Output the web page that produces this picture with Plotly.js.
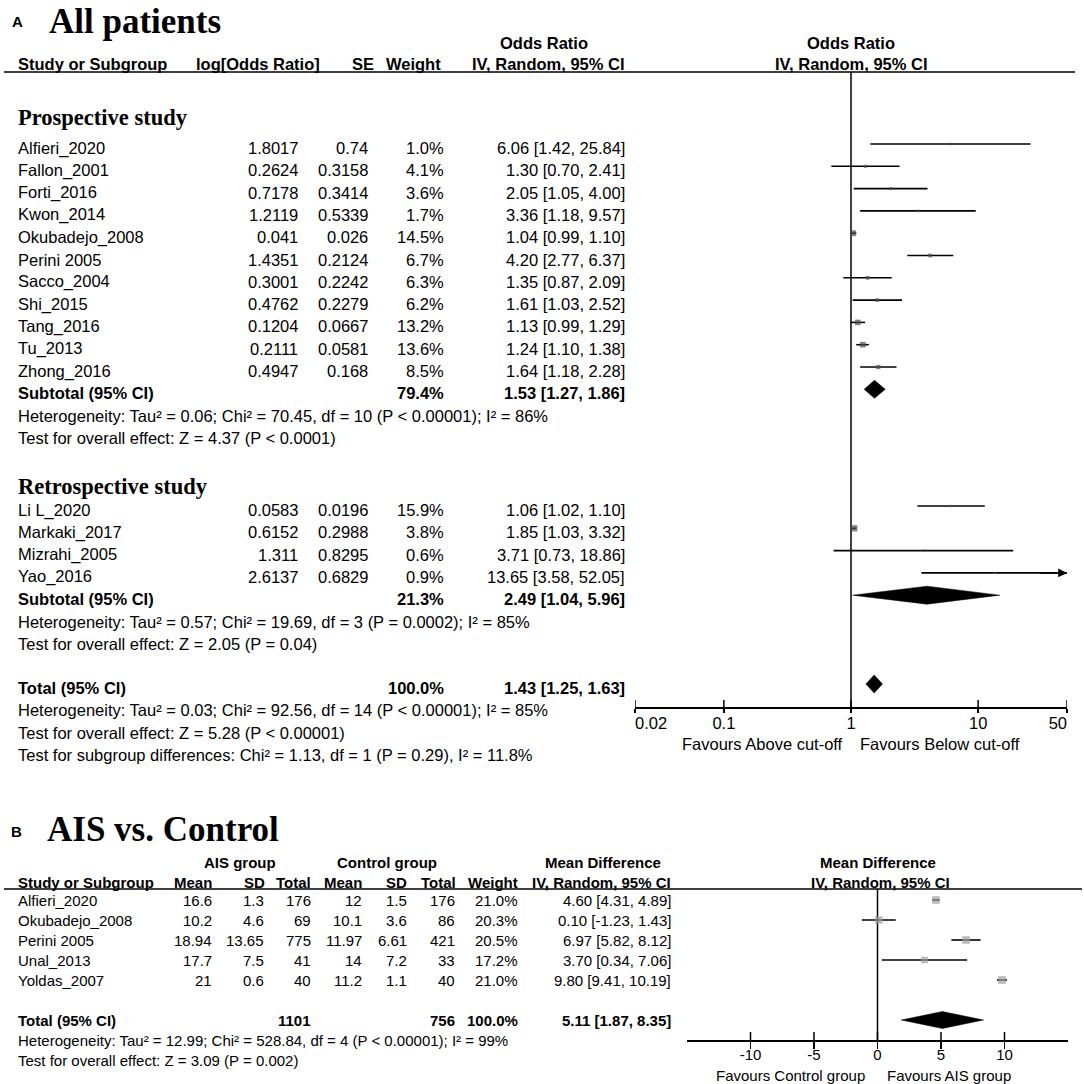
<!DOCTYPE html>
<html><head><meta charset="utf-8">
<script src="https://cdn.plot.ly/plotly-3.0.1.min.js"></script>
<style>html,body{margin:0;padding:0;background:#fff}</style>
</head><body><div id="chart" style="width:1084px;height:1084px"></div>
<script>
// ================= DATA : Panel A (All patients) =================
const prosNames  = ['Alfieri_2020','Fallon_2001','Forti_2016','Kwon_2014','Okubadejo_2008','Perini 2005','Sacco_2004','Shi_2015','Tang_2016','Tu_2013','Zhong_2016'];
const prosLogOR  = ['1.8017','0.2624','0.7178','1.2119','0.041','1.4351','0.3001','0.4762','0.1204','0.2111','0.4947'];
const prosSE     = ['0.74','0.3158','0.3414','0.5339','0.026','0.2124','0.2242','0.2279','0.0667','0.0581','0.168'];
const prosWeight = [1.0,4.1,3.6,1.7,14.5,6.7,6.3,6.2,13.2,13.6,8.5];
const prosOR     = [6.06,1.30,2.05,3.36,1.04,4.20,1.35,1.61,1.13,1.24,1.64];
const prosLo     = [1.42,0.70,1.05,1.18,0.99,2.77,0.87,1.03,0.99,1.10,1.18];
const prosHi     = [25.84,2.41,4.00,9.57,1.10,6.37,2.09,2.52,1.29,1.38,2.28];
const prosSub    = [79.4, 1.53, 1.27, 1.86];           // weight, OR, lower, upper
const prosHet    = 'Heterogeneity: Tau² = 0.06; Chi² = 70.45, df = 10 (P < 0.00001); I² = 86%';
const prosTest   = 'Test for overall effect: Z = 4.37 (P < 0.0001)';

const retroNames  = ['Li L_2020','Markaki_2017','Mizrahi_2005','Yao_2016'];
const retroLogOR  = ['0.0583','0.6152','1.311','2.6137'];
const retroSE     = ['0.0196','0.2988','0.8295','0.6829'];
const retroWeight = [15.9,3.8,0.6,0.9];
const retroOR     = [1.06,1.85,3.71,13.65];
const retroLo     = [1.02,1.03,0.73,3.58];
const retroHi     = [1.10,3.32,18.86,52.05];
// marks of this subgroup as they are drawn in the figure
const retroPlotOR     = [6.13,1.06,3.71,13.65];
const retroPlotLo     = [3.33,1.02,0.73,3.58];
const retroPlotHi     = [11.27,1.10,18.86,52.05];
const retroPlotWeight = [1.0,15.9,0.6,0.9];
const retroSub        = [21.3, 2.49, 1.04, 5.96];
const retroSubDrawn   = [3.96, 1.03, 14.8];          // diamond as drawn: centre, lower, upper
const retroHet  = 'Heterogeneity: Tau² = 0.57; Chi² = 19.69, df = 3 (P = 0.0002); I² = 85%';
const retroTest = 'Test for overall effect: Z = 2.05 (P = 0.04)';

const totalA      = [100.0, 1.43, 1.25, 1.63];
const totalADrawn = [1.52, 1.31, 1.77];
const totalAHet   = 'Heterogeneity: Tau² = 0.03; Chi² = 92.56, df = 14 (P < 0.00001); I² = 85%';
const totalATest  = 'Test for overall effect: Z = 5.28 (P < 0.00001)';
const totalASub   = 'Test for subgroup differences: Chi² = 1.13, df = 1 (P = 0.29), I² = 11.8%';

const aTickVals = [0.02, 0.1, 1, 10, 50];
const aTickText = ['0.02', '0.1', '1', '10', '50'];

// ================= DATA : Panel B (AIS vs. Control) =================
const bNames   = ['Alfieri_2020','Okubadejo_2008','Perini 2005','Unal_2013','Yoldas_2007'];
const aisMean  = ['16.6','10.2','18.94','17.7','21'];
const aisSD    = ['1.3','4.6','13.65','7.5','0.6'];
const aisTotal = [176,69,775,41,40];
const ctlMean  = ['12','10.1','11.97','14','11.2'];
const ctlSD    = ['1.5','3.6','6.61','7.2','1.1'];
const ctlTotal = [176,86,421,33,40];
const bWeight  = [21.0,20.3,20.5,17.2,21.0];
const md       = [4.60,0.10,6.97,3.70,9.80];
const mdLo     = [4.31,-1.23,5.82,0.34,9.41];
const mdHi     = [4.89,1.43,8.12,7.06,10.19];
const totalB   = [1101, 756, 100.0, 5.11, 1.87, 8.35];
const bHet  = 'Heterogeneity: Tau² = 12.99; Chi² = 528.84, df = 4 (P < 0.00001); I² = 99%';
const bTest = 'Test for overall effect: Z = 3.09 (P = 0.002)';
const bTickVals = [-10, -5, 0, 5, 10];
const bTickText = ['-10', '-5', '0', '5', '10'];

// ================= LAYOUT HELPERS =================
const W = 1084, H = 1084;
const SANS = 'Liberation Sans, Arial, Helvetica, sans-serif';
const SERIF = 'Liberation Serif, Times New Roman, serif';
const FA = 16.5, FB = 15;
const ann = [];
function T(x, y, s, anchor, size, bold, family) {
  ann.push({xref:'paper', yref:'y', x:x/W, y:y, text: bold ? '<b>'+s+'</b>' : s,
    showarrow:false, xanchor:anchor||'left', yanchor:'middle',
    font:{family:family||SANS, size:size||FA, color:'#000'}});
}
const ci = (o,l,h) => o.toFixed(2)+' ['+l.toFixed(2)+', '+h.toFixed(2)+']';
const pct = w => w.toFixed(1)+'%';
const msize = w => 2 + 0.27*w;

// Panel A geometry
const A = {nameX:16, logX:300, seX:370, wX:446, ciX:627, rowH:22.3, markDy:-4,
  axisY:707, lineY:72, x0:635, x1:1067};
const prosY0 = 148, retroY0 = 510, totY0 = 688;
// Panel B geometry
const B = {nameX:16, am:214, asd:266, at:313, cm:364, csd:409, ct:457, w:520, ci:673,
  rowH:20, axisY:1040, lineY:889, x0:687, x1:1068};
const bY0 = 900, bTotY = 1020;

// ---------- Panel A text ----------
T(10, 21, 'A', 'left', 15, true);
T(47, 21, 'All patients', 'left', 35, true, SERIF);
T(544, 43, 'Odds Ratio', 'center', FA, true);
T(851, 43, 'Odds Ratio', 'center', FA, true);
T(A.nameX, 64, 'Study or Subgroup', 'left', FA, true);
T(322, 64, 'log[Odds Ratio]', 'right', FA, true);
T(376, 64, 'SE', 'right', FA, true);
T(443, 64, 'Weight', 'right', FA, true);
T(A.ciX, 64, 'IV, Random, 95% CI', 'right', FA, true);
T(851, 64, 'IV, Random, 95% CI', 'center', FA, true);

T(A.nameX, 117, 'Prospective study', 'left', 22.5, true, SERIF);
prosNames.forEach((n,i) => {
  const y = prosY0 + i*A.rowH;
  T(A.nameX, y, n); T(A.logX, y, prosLogOR[i], 'right'); T(A.seX, y, prosSE[i], 'right');
  T(A.wX, y, pct(prosWeight[i]), 'right'); T(A.ciX, y, ci(prosOR[i], prosLo[i], prosHi[i]), 'right');
});
let y = prosY0 + prosNames.length*A.rowH;
T(A.nameX, y, 'Subtotal (95% CI)', 'left', FA, true);
T(A.wX, y, pct(prosSub[0]), 'right', FA, true);
T(A.ciX, y, ci(prosSub[1], prosSub[2], prosSub[3]), 'right', FA, true);
T(A.nameX, y + A.rowH, prosHet);
T(A.nameX, y + 2*A.rowH, prosTest);
const prosSubY = y;

T(A.nameX, 486, 'Retrospective study', 'left', 22.5, true, SERIF);
retroNames.forEach((n,i) => {
  const yy = retroY0 + i*A.rowH;
  T(A.nameX, yy, n); T(A.logX, yy, retroLogOR[i], 'right'); T(A.seX, yy, retroSE[i], 'right');
  T(A.wX, yy, pct(retroWeight[i]), 'right'); T(A.ciX, yy, ci(retroOR[i], retroLo[i], retroHi[i]), 'right');
});
y = retroY0 + retroNames.length*A.rowH;
const retroSubY = y;
T(A.nameX, y, 'Subtotal (95% CI)', 'left', FA, true);
T(A.wX, y, pct(retroSub[0]), 'right', FA, true);
T(A.ciX, y, ci(retroSub[1], retroSub[2], retroSub[3]), 'right', FA, true);
T(A.nameX, y + A.rowH, retroHet);
T(A.nameX, y + 2*A.rowH, retroTest);

T(A.nameX, totY0, 'Total (95% CI)', 'left', FA, true);
T(A.wX, totY0, pct(totalA[0]), 'right', FA, true);
T(A.ciX, totY0, ci(totalA[1], totalA[2], totalA[3]), 'right', FA, true);
T(A.nameX, totY0 + A.rowH, totalAHet);
T(A.nameX, totY0 + 2*A.rowH, totalATest);
T(A.nameX, totY0 + 3*A.rowH, totalASub);

T(845, 744, 'Favours Above cut-off', 'right', FA);
T(858, 744, 'Favours Below cut-off', 'left', FA);

// ---------- Panel B text ----------
T(9, 831, 'B', 'left', 15, true);
T(45, 829, 'AIS vs. Control', 'left', 35, true, SERIF);
T(240, 862, 'AIS group', 'center', FB, true);
T(387, 862, 'Control group', 'center', FB, true);
T(603, 862, 'Mean Difference', 'center', FB, true);
T(878, 862, 'Mean Difference', 'center', FB, true);
T(B.nameX, 882, 'Study or Subgroup', 'left', FB, true);
T(B.am, 882, 'Mean', 'right', FB, true);
T(B.asd+1, 882, 'SD', 'right', FB, true);
T(B.at, 882, 'Total', 'right', FB, true);
T(B.cm, 882, 'Mean', 'right', FB, true);
T(B.csd, 882, 'SD', 'right', FB, true);
T(B.ct+1, 882, 'Total', 'right', FB, true);
T(B.w, 882, 'Weight', 'right', FB, true);
T(B.ci, 882, 'IV, Random, 95% CI', 'right', FB, true);
T(880, 882, 'IV, Random, 95% CI', 'center', FB, true);
bNames.forEach((n,i) => {
  const yy = bY0 + i*B.rowH;
  T(B.nameX, yy, n, 'left', FB);
  T(B.am, yy, aisMean[i], 'right', FB); T(B.asd, yy, aisSD[i], 'right', FB); T(B.at, yy, String(aisTotal[i]), 'right', FB);
  T(B.cm, yy, ctlMean[i], 'right', FB); T(B.csd, yy, ctlSD[i], 'right', FB); T(B.ct, yy, String(ctlTotal[i]), 'right', FB);
  T(B.w, yy, pct(bWeight[i]), 'right', FB); T(B.ci, yy, ci(md[i], mdLo[i], mdHi[i]), 'right', FB);
});
T(B.nameX, bTotY, 'Total (95% CI)', 'left', FB, true);
T(B.at, bTotY, String(totalB[0]), 'right', FB, true);
T(B.ct, bTotY, String(totalB[1]), 'right', FB, true);
T(B.w, bTotY, pct(totalB[2]), 'right', FB, true);
T(B.ci, bTotY, ci(totalB[3], totalB[4], totalB[5]), 'right', FB, true);
T(B.nameX, bTotY + B.rowH, bHet, 'left', FB);
T(B.nameX, bTotY + 2*B.rowH, bTest, 'left', FB);
T(867, 1075, 'Favours Control group', 'right', FB);
T(885, 1075, 'Favours AIS group', 'left', FB);

// ================= TRACES =================
const traces = [];
const LW = 1.6;
// --- Panel A ---
const aMarkY = [], aOR = [], aLo = [], aHi = [], aW = [];
prosNames.forEach((n,i) => { aMarkY.push(prosY0 + i*A.rowH + A.markDy); aOR.push(prosOR[i]); aLo.push(prosLo[i]); aHi.push(prosHi[i]); aW.push(prosWeight[i]); });
retroNames.forEach((n,i) => { aMarkY.push(retroY0 + i*A.rowH + A.markDy); aOR.push(retroPlotOR[i]); aLo.push(retroPlotLo[i]); aHi.push(Math.min(retroPlotHi[i], aTickVals[4])); aW.push(retroPlotWeight[i]); });
const lx = [], ly = [];
aOR.forEach((o,i) => { lx.push(aLo[i], aHi[i], null); ly.push(aMarkY[i], aMarkY[i], null); });
traces.push({type:'scatter', mode:'lines', x:[1,1], y:[A.lineY, A.axisY], xaxis:'x', yaxis:'y', line:{color:'#000', width:1.5}, hoverinfo:'skip'});
traces.push({type:'scatter', mode:'lines', x:lx, y:ly, xaxis:'x', yaxis:'y', line:{color:'#000', width:LW}, hoverinfo:'skip', cliponaxis:false});
traces.push({type:'scatter', mode:'markers', x:aOR, y:aMarkY, xaxis:'x', yaxis:'y',
  marker:{symbol:'square', size:aW.map(msize), color:'#4d4d4d', line:{width:0}}, cliponaxis:false, hoverinfo:'skip'});
function diamond(c, lo, hi, yc, h) { return {x:[lo, c, hi, c, lo, null], y:[yc, yc-h/2, yc, yc+h/2, yc, null]}; }
const dA = [diamond(prosSub[1], prosSub[2], prosSub[3], prosSubY + A.markDy, 18),
            diamond(retroSubDrawn[0], retroSubDrawn[1], retroSubDrawn[2], retroSubY + A.markDy, 18),
            diamond(totalADrawn[0], totalADrawn[1], totalADrawn[2], totY0 + A.markDy, 18)];
dA.forEach(d => traces.push({type:'scatter', mode:'lines', x:d.x, y:d.y, xaxis:'x', yaxis:'y', fill:'toself', fillcolor:'#000', line:{color:'#000', width:0.5}, hoverinfo:'skip'}));
// inward half of the A ticks
const tkx = [], tky = [];
aTickVals.forEach(v => { tkx.push(v, v, null); tky.push(A.axisY, A.axisY - 7, null); });
traces.push({type:'scatter', mode:'lines', x:tkx, y:tky, xaxis:'x', yaxis:'y', line:{color:'#000', width:1.5}, hoverinfo:'skip', cliponaxis:false});
// A tick labels (end labels kept inside the axis span)
traces.push({type:'scatter', mode:'text', x:aTickVals, y:aTickVals.map(() => 725), xaxis:'x', yaxis:'y', text:aTickText,
  textposition:aTickVals.map((v,i) => i === 0 ? 'middle right' : (i === aTickVals.length-1 ? 'middle left' : 'middle center')),
  textfont:{family:SANS, size:FA, color:'#000'}, cliponaxis:false, hoverinfo:'skip'});
// arrow for the truncated CI (upper limit beyond axis)
retroPlotHi.forEach((h,i) => {
  if (h > aTickVals[4]) {
    const yy = retroY0 + i*A.rowH + A.markDy;
    ann.push({xref:'x', yref:'y', axref:'x', ayref:'y', x:Math.log10(aTickVals[4]), y:yy, ax:Math.log10(30), ay:yy,
      showarrow:true, arrowhead:2, arrowsize:1.1, arrowwidth:1.6, arrowcolor:'#000', standoff:0, text:''});
  }
});

// --- Panel B ---
const bMarkY = bNames.map((n,i) => bY0 + i*B.rowH);
const bx = [], by = [];
md.forEach((m,i) => { bx.push(mdLo[i], mdHi[i], null); by.push(bMarkY[i], bMarkY[i], null); });
traces.push({type:'scatter', mode:'lines', x:[0,0], y:[B.lineY, B.axisY], xaxis:'x2', yaxis:'y2', line:{color:'#000', width:1.5}, hoverinfo:'skip'});
traces.push({type:'scatter', mode:'lines', x:bx, y:by, xaxis:'x2', yaxis:'y2', line:{color:'#000', width:LW}, hoverinfo:'skip'});
traces.push({type:'scatter', mode:'markers', x:md, y:bMarkY, xaxis:'x2', yaxis:'y2',
  marker:{symbol:'square', size:bWeight.map(msize), color:'#9e9e9e', line:{width:0}}, cliponaxis:false, hoverinfo:'skip'});
const dB = diamond(totalB[3], totalB[4], totalB[5], bTotY, 17);
traces.push({type:'scatter', mode:'lines', x:dB.x, y:dB.y, xaxis:'x2', yaxis:'y2', fill:'toself', fillcolor:'#000', line:{color:'#000', width:0.5}, hoverinfo:'skip'});
const tbx = [], tby = [];
bTickVals.forEach(v => { tbx.push(v, v, null); tby.push(B.axisY, B.axisY - 8, null); });
traces.push({type:'scatter', mode:'lines', x:tbx, y:tby, xaxis:'x2', yaxis:'y2', line:{color:'#000', width:1.5}, hoverinfo:'skip', cliponaxis:false});
traces.push({type:'scatter', mode:'text', x:bTickVals, y:bTickVals.map(() => 1056), xaxis:'x2', yaxis:'y2', text:bTickText,
  textposition:'middle center', textfont:{family:SANS, size:FB, color:'#000'}, cliponaxis:false, hoverinfo:'skip'});

// ================= LAYOUT =================
const shapes = [
  {type:'line', xref:'paper', yref:'y', x0:4/W, x1:1075/W, y0:A.lineY, y1:A.lineY, line:{color:'#000', width:1.5}},
  {type:'line', xref:'paper', yref:'y', x0:4/W, x1:1082/W, y0:B.lineY, y1:B.lineY, line:{color:'#000', width:1.5}}
];
const layout = {
  width:W, height:H, margin:{l:0, r:0, t:0, b:0, pad:0},
  paper_bgcolor:'#fff', plot_bgcolor:'rgba(0,0,0,0)', showlegend:false,
  xaxis:{domain:[A.x0/W, A.x1/W], type:'log', range:[Math.log10(aTickVals[0]), Math.log10(aTickVals[4])],
    anchor:'free', position:1 - A.axisY/H, showline:true, linecolor:'#000', linewidth:1.5,
    ticks:'outside', ticklen:4, tickwidth:1.5, tickcolor:'#000', tickvals:aTickVals, showticklabels:false,
    showgrid:false, zeroline:false, fixedrange:true, automargin:false},
  yaxis:{domain:[0,1], range:[H,0], visible:false, anchor:'x', fixedrange:true},
  xaxis2:{domain:[B.x0/W, B.x1/W], range:[-15,15], anchor:'free', position:1 - B.axisY/H,
    showline:true, linecolor:'#000', linewidth:1.5, ticks:'outside', ticklen:7, tickwidth:1.5, tickcolor:'#000',
    tickvals:bTickVals, showticklabels:false,
    showgrid:false, zeroline:false, fixedrange:true, automargin:false},
  yaxis2:{domain:[0,1], range:[H,0], visible:false, anchor:'x2', fixedrange:true},
  annotations:ann, shapes:shapes
};
Plotly.newPlot('chart', traces, layout, {staticPlot:true, displayModeBar:false});
</script></body></html>
